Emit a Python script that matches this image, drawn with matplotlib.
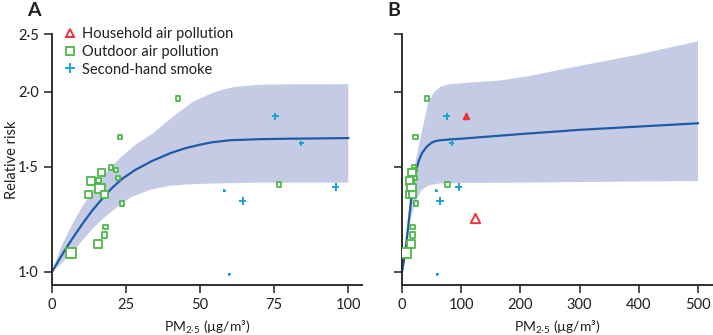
import matplotlib
matplotlib.use("Agg")
import matplotlib.pyplot as plt
from matplotlib.lines import Line2D

plt.rcParams['font.family'] = ['Lato', 'DejaVu Sans']
plt.rcParams['mathtext.fontset'] = 'custom'
plt.rcParams['mathtext.rm'] = 'Lato'
plt.rcParams['mathtext.it'] = 'Lato:italic'

# colours
band_col = '#c5cbe5'
line_col = '#1d5ba8'
green = '#4db848'
blue = '#1aa3d9'
red = '#ec3237'
dark = '#231f20'

# panel A fitted curve and uncertainty band
curve_a_x = [0, 2, 4, 6.8, 10, 13.5, 17.6, 20.5, 23.6, 28, 33.8, 40, 45, 50, 54, 60, 70, 80, 90, 100]
curve_a_rr = [1.0, 1.04, 1.08, 1.135, 1.198, 1.265, 1.337, 1.385, 1.43, 1.48, 1.533, 1.58, 1.61,
              1.632, 1.647, 1.66, 1.667, 1.67, 1.672, 1.674]
upper_a_x = [0, 3.4, 6.8, 10, 13.5, 16.9, 20, 23.6, 28, 33.8, 38, 42.8, 48, 54, 58, 62, 70, 80, 100]
upper_a_rr = [1.0, 1.11, 1.2, 1.28, 1.36, 1.44, 1.5, 1.56, 1.63, 1.70, 1.77, 1.85, 1.93, 1.99,
              2.02, 2.04, 2.055, 2.06, 2.06]
lower_a_x = [0, 3.4, 6.8, 10, 13.5, 17, 20.3, 23.5, 27, 33.8, 40, 45.3, 54, 70, 100]
lower_a_rr = [1.0, 1.035, 1.075, 1.125, 1.177, 1.225, 1.263, 1.302, 1.335, 1.375, 1.393, 1.40,
              1.405, 1.41, 1.41]

# panel B fitted curve and uncertainty band
curve_b_x = [0, 5.6, 11, 16.8, 22.4, 28, 33.7, 42, 50, 57, 65, 80, 100, 200, 300, 400, 500]
curve_b_rr = [1.0, 1.075, 1.2, 1.36, 1.46, 1.53, 1.58, 1.62, 1.645, 1.655, 1.66, 1.665,
              1.67, 1.70, 1.728, 1.75, 1.772]
upper_b_x = [0, 5, 11.2, 22.4, 30.9, 44.9, 55, 64.6, 80, 120, 165.8, 220, 278, 340, 390.6, 450, 500]
upper_b_rr = [1.0, 1.12, 1.257, 1.52, 1.668, 1.93, 2.0, 2.04, 2.06, 2.075, 2.09, 2.13, 2.19,
              2.25, 2.30, 2.37, 2.43]
lower_b_x = [0, 5, 11.2, 22.4, 33, 45, 65, 100, 200, 300, 400, 500]
lower_b_rr = [1.0, 1.08, 1.19, 1.31, 1.37, 1.395, 1.406, 1.408, 1.41, 1.413, 1.416, 1.419]

# study estimates
outdoor_pm = [42.5, 23, 19.8, 21.5, 22.2, 16.7, 15.6, 13.1, 16.2, 12.2, 17.7, 23.6, 18.0,
              17.7, 15.5, 6.4, 76.7]
outdoor_rr = [1.95, 1.68, 1.494, 1.48, 1.434, 1.466, 1.42, 1.419, 1.378, 1.346, 1.346, 1.30,
              1.187, 1.154, 1.113, 1.075, 1.40]
outdoor_size = [10, 10, 10, 10, 10, 28, 14, 28, 50, 28, 28, 12, 10, 18, 28, 55, 10]

smoke_pm = [75.4, 84.2, 58.2, 64.3, 95.7, 59.9]
smoke_rr = [1.82, 1.64, 1.367, 1.315, 1.386, 0.99]
smoke_size = [30, 14, 6, 30, 30, 6]

household_pm = [108.4, 122.5]
household_rr = [1.82, 1.228]
household_size = [16, 45]
household_filled = [True, False]

yticks = [1.0, 1.5, 2.0, 2.5]
ytick_labels = ['1·0', '1·5', '2·0', '2·5']
xticks_a = [0, 25, 50, 75, 100]
xticks_b = [0, 100, 200, 300, 400, 500]

fig = plt.figure(figsize=(7.13, 3.35), dpi=100)
ax_a = fig.add_axes([0.073, 0.149, 0.435, 0.7495])
ax_b = fig.add_axes([0.5638, 0.149, 0.4355, 0.7495])


def draw_panel(ax, cx, cy, ux, uy, lx, ly, show_household):
    ax.fill(ux + lx[::-1], uy + ly[::-1], color=band_col, lw=0, zorder=1)
    ax.plot(cx, cy, color=line_col, lw=1.6, zorder=2)
    ax.scatter(outdoor_pm, outdoor_rr, s=outdoor_size, marker='s', facecolor='white',
               edgecolor=green, linewidth=1.3, zorder=3)
    ax.scatter(smoke_pm, smoke_rr, s=smoke_size, marker='+', color=blue, linewidth=1.4, zorder=3)
    if show_household:
        for x, y, s, f in zip(household_pm, household_rr, household_size, household_filled):
            ax.scatter([x], [y], s=s, marker='^', facecolor=red if f else 'white',
                       edgecolor=red, linewidth=1.4, zorder=3)
    ax.set_yscale('log')
    ax.set_ylim(0.95, 2.5)
    ax.set_yticks(yticks)
    ax.minorticks_off()
    ax.spines['top'].set_visible(False)
    ax.spines['right'].set_visible(False)
    for sp in ['left', 'bottom']:
        ax.spines[sp].set_linewidth(1.3)
        ax.spines[sp].set_color(dark)
    ax.tick_params(direction='out', length=6, width=1.1, color=dark, labelsize=10.5,
                   labelcolor=dark)
    ax.set_xlabel('PM$_{2\u00b75}$ (µg/m³)', fontsize=10, color=dark, labelpad=5)


draw_panel(ax_a, curve_a_x, curve_a_rr, upper_a_x, upper_a_rr, lower_a_x, lower_a_rr, False)
ax_a.set_xlim(0, 104.7)
ax_a.set_xticks(xticks_a)
ax_a.set_yticklabels(ytick_labels)
ax_a.set_ylabel('Relative risk', fontsize=10.5, color=dark)
ax_a.yaxis.set_label_coords(-0.105, 0.5)

draw_panel(ax_b, curve_b_x, curve_b_rr, upper_b_x, upper_b_rr, lower_b_x, lower_b_rr, True)
ax_b.set_xlim(0, 524.5)
ax_b.set_xticks(xticks_b)
ax_b.set_yticklabels([])

handles = [
    Line2D([], [], marker='^', ls='none', markersize=6, markerfacecolor='white',
           markeredgecolor=red, markeredgewidth=1.4),
    Line2D([], [], marker='s', ls='none', markersize=5.5, markerfacecolor='white',
           markeredgecolor=green, markeredgewidth=1.3),
    Line2D([], [], marker='+', ls='none', markersize=7, color=blue, markeredgewidth=1.4),
]
ax_a.legend(handles, ['Household air pollution', 'Outdoor air pollution', 'Second-hand smoke'],
            loc='upper left', bbox_to_anchor=(0.02, 1.05), frameon=False, fontsize=10.5,
            handlelength=0.8, handletextpad=0.4, labelspacing=0.25, borderaxespad=0,
            labelcolor=dark)

fig.text(0.048, 0.995, 'A', fontsize=14, fontweight='bold', color=dark, ha='center', va='top')
fig.text(0.552, 0.995, 'B', fontsize=14, fontweight='bold', color=dark, ha='center', va='top')

fig.savefig('out.png', dpi=100)
